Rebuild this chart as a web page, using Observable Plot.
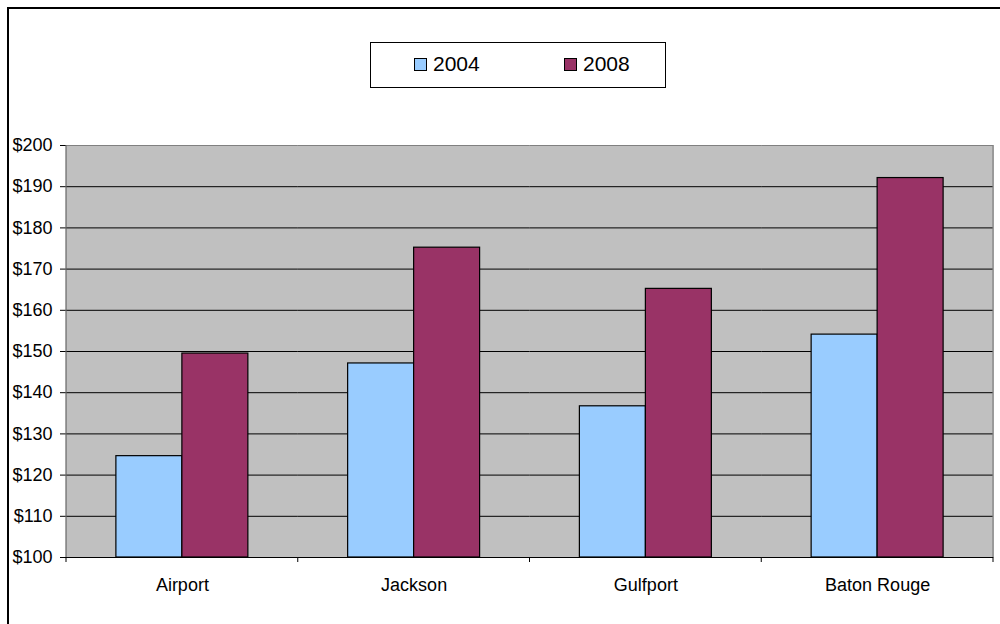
<!DOCTYPE html>
<html>
<head>
<meta charset="utf-8">
<script src="https://cdn.jsdelivr.net/npm/d3@7"></script>
<script src="https://cdn.jsdelivr.net/npm/@observablehq/plot@0.6"></script>
<style>
  body { margin: 0; background: #fff; }
  svg { display: block; }
</style>
</head>
<body>
<div id="chart"></div>
<script>
// Average daily rate by location, 2004 vs 2008
const cities = ["Airport", "Jackson", "Gulfport", "Baton Rouge"];
const years = ["2004", "2008"];
const values2004 = [124.6, 147.1, 136.7, 154.1];
const values2008 = [149.5, 175.2, 165.2, 192.1];
const yTicks = [100, 110, 120, 130, 140, 150, 160, 170, 180, 190, 200];
const seriesColors = ["#99CCFF", "#993366"];

const rows = cities.flatMap((city, i) => [
  {city, year: years[0], value: values2004[i]},
  {city, year: years[1], value: values2008[i]}
]);

const font = "'Liberation Sans', Arial, sans-serif";
const yMin = yTicks[0], yMax = yTicks[yTicks.length - 1];

const chart = Plot.plot({
  width: 1000,
  height: 624,
  marginLeft: 66,
  marginRight: 7,
  marginTop: 145,
  marginBottom: 67,
  style: {fontFamily: font, fontSize: "18px", color: "#000", background: "#fff", overflow: "visible"},
  fx: {domain: cities, padding: 0, round: false, label: null},
  x: {domain: years, paddingInner: 0, paddingOuter: 0.756, round: false, axis: null},
  y: {domain: [yMin, yMax], label: null},
  color: {domain: years, range: seriesColors},
  marks: [
    Plot.frame({fill: "#c0c0c0", stroke: "#c0c0c0", strokeWidth: 1}),
    Plot.ruleY(yTicks.slice(1, -1), {stroke: "#000", strokeWidth: 1}),
    Plot.ruleY([yMax], {stroke: "#808080", strokeWidth: 1}),
    Plot.barY(rows, {fx: "city", x: "year", y1: yMin, y2: "value", fill: "year", stroke: "#000", strokeWidth: 1.2}),
    Plot.ruleY([yMin], {stroke: "#000", strokeWidth: 1}),
    Plot.axisY({ticks: yTicks, tickFormat: d => "$" + d, tickSize: 6, tickPadding: 8, fontSize: 18, stroke: "#000", anchor: "left", label: null}),
    Plot.axisFx({anchor: "bottom", tickSize: 0, tickPadding: 21, fontSize: 18, label: null})
  ]
});

const svg = d3.select(chart);
const fx = chart.scale("fx");
const y = chart.scale("y");
const color = chart.scale("color");
const yTop = y.apply(yMax), yBottom = y.apply(yMin);
const edges = cities.map(c => fx.apply(c)).concat(fx.apply(cities[cities.length - 1]) + fx.bandwidth);

// plot-area side borders
svg.append("line").attr("x1", edges[0]).attr("x2", edges[0]).attr("y1", yTop).attr("y2", yBottom)
  .attr("stroke", "#666").attr("stroke-width", 1.2);
svg.append("line").attr("x1", edges[edges.length - 1]).attr("x2", edges[edges.length - 1]).attr("y1", yTop).attr("y2", yBottom)
  .attr("stroke", "#808080").attr("stroke-width", 1.2);

// category boundary ticks on the x axis
svg.append("g").selectAll("line").data(edges).join("line")
  .attr("x1", d => d).attr("x2", d => d)
  .attr("y1", yBottom).attr("y2", yBottom + 5)
  .attr("stroke", "#000").attr("stroke-width", 1);

// chart border
svg.append("rect").attr("x", 8).attr("y", 8).attr("width", 1100).attr("height", 1000)
  .attr("fill", "none").attr("stroke", "#000").attr("stroke-width", 2);

// legend
const legend = svg.append("g").attr("font-family", font).attr("font-size", 21).attr("text-anchor", "start");
legend.append("rect").attr("x", 370.5).attr("y", 42.5).attr("width", 295).attr("height", 45)
  .attr("fill", "#fff").attr("stroke", "#000").attr("stroke-width", 1);
const legendX = [414, 564];
years.forEach((yr, i) => {
  legend.append("rect").attr("x", legendX[i] + 0.5).attr("y", 58.5).attr("width", 12).attr("height", 12)
    .attr("fill", color.apply(yr)).attr("stroke", "#000").attr("stroke-width", 1);
  legend.append("text").attr("x", legendX[i] + 19).attr("y", 71).attr("fill", "#000").text(yr);
});

document.getElementById("chart").append(chart);
</script>
</body>
</html>
